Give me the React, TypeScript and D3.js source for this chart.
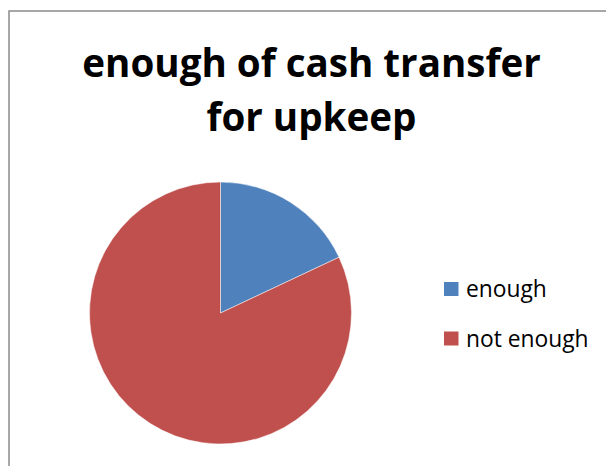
import React, { useEffect, useRef } from 'react'
import * as d3 from 'd3'

const categories = ['enough', 'not enough']
const values = [18, 82]
const colors = ['#4F81BD', '#C0504D']
const titleLines = ['enough of cash transfer', 'for upkeep']

const App: React.FC = () => {
  const ref = useRef<SVGSVGElement>(null)

  useEffect(() => {
    const svg = d3.select(ref.current)
    svg.selectAll('*').remove()

    // chart frame (runs off the right and bottom edges)
    svg
      .append('rect')
      .attr('x', 9)
      .attr('y', 11)
      .attr('width', 700)
      .attr('height', 600)
      .attr('fill', '#fff')
      .attr('stroke', '#8a8a8a')
      .attr('stroke-width', 1.5)

    const title = svg
      .append('text')
      .attr('text-anchor', 'middle')
      .attr('font-family', '"Open Sans", sans-serif')
      .attr('font-weight', 700)
      .attr('font-size', 38.6)
      .attr('fill', '#000')
    titleLines.forEach((line, i) => {
      title
        .append('tspan')
        .attr('x', 311.5)
        .attr('y', 77 + i * 53.5)
        .text(line)
    })

    const cx = 220.5
    const cy = 313
    const r = 131

    const pie = d3
      .pie<number>()
      .sort(null)
      .value((d) => d)
    const arc = d3.arc<d3.PieArcDatum<number>>().innerRadius(0).outerRadius(r)

    const g = svg.append('g').attr('transform', `translate(${cx},${cy})`)
    g.selectAll('path')
      .data(pie(values))
      .enter()
      .append('path')
      .attr('d', arc)
      .attr('fill', (_, i) => colors[i])
      .attr('stroke', '#fff')
      .attr('stroke-width', 0.5)

    const legend = svg.append('g').attr('transform', 'translate(444,282)')
    const item = legend
      .selectAll('g')
      .data(categories)
      .enter()
      .append('g')
      .attr('transform', (_, i) => `translate(0,${i * 49.5})`)
    item
      .append('rect')
      .attr('width', 14.5)
      .attr('height', 14)
      .attr('fill', (_, i) => colors[i])
    item
      .append('text')
      .attr('x', 22)
      .attr('y', 15)
      .attr('font-family', '"Open Sans", sans-serif')
      .attr('font-size', 22.8)
      .attr('fill', '#000')
      .text((d) => d)
  }, [])

  return (
    <svg
      ref={ref}
      width={606}
      height={466}
      style={{ position: 'absolute', left: 0, top: 0, background: '#fff' }}
    />
  )
}

export default App
